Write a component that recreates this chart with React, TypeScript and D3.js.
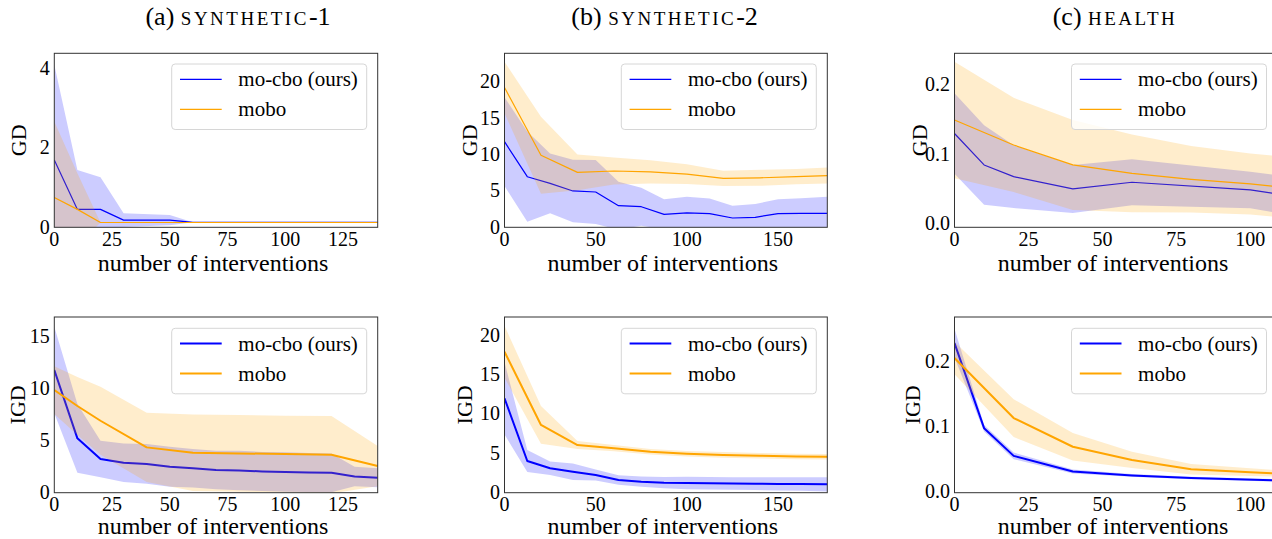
import React from 'react';
import * as d3 from 'd3';

// ---------- DATA ----------
// (a) synthetic-1, GD
const a1XMocbo = [0, 10, 20, 30, 50, 60, 140];
const a1MeanMocbo = [1.69, 0.45, 0.45, 0.18, 0.18, 0.125, 0.125];
const a1StdMocbo = [2.39, 0.99, 0.81, 0.17, 0.13, 0, 0];
const a1XMobo = [0, 10, 20, 140];
const a1MeanMobo = [0.75, 0.45, 0.12, 0.12];
const a1StdMobo = [1.91, 0.91, 0, 0];

// (b) synthetic-2, GD
const b1XMocbo = [0, 12.5, 25, 37.5, 50, 62.5, 75, 87.5, 100, 112.5, 125, 137.5, 150, 162.5, 177];
const b1MeanMocbo = [11.76, 6.95, 6.04, 4.99, 4.85, 2.97, 2.83, 1.78, 1.97, 1.88, 1.28, 1.37, 1.88, 1.9, 1.92];
const b1StdMocbo = [6.1, 6.2, 4.1, 4.3, 4.4, 3.3, 2.6, 2.07, 2.24, 2.06, 1.69, 1.83, 1.97, 2.1, 2.28];
const b1XMobo = [0, 20, 40, 60, 80, 100, 120, 140, 160, 177];
const b1MeanMobo = [19.2, 9.9, 7.55, 7.73, 7.6, 7.3, 6.73, 6.8, 6.95, 7.1];
const b1StdMobo = [3.55, 5.3, 2.45, 1.85, 1.6, 1.35, 1.05, 1.1, 1.05, 1.1];

// (c) health, GD
const c1XMocbo = [0, 10, 20, 40, 60, 100, 109];
const c1MeanMocbo = [0.13, 0.0846, 0.0677, 0.05, 0.0596, 0.0485, 0.0428];
const c1StdMocbo = [0.058, 0.0574, 0.0453, 0.0346, 0.0332, 0.0264, 0.0272];
const c1XMobo = [0, 20, 40, 60, 80, 100, 109];
const c1MeanMobo = [0.1495, 0.1134, 0.0846, 0.0724, 0.0639, 0.0572, 0.0534];
const c1StdMobo = [0.084, 0.068, 0.065, 0.056, 0.048, 0.044, 0.044];

// (a) synthetic-1, IGD
const a2XMocbo = [0, 10, 20, 30, 40, 50, 60, 70, 80, 90, 100, 110, 120, 130, 140];
const a2MeanMocbo = [11.8, 5.23, 3.24, 2.89, 2.77, 2.5, 2.35, 2.19, 2.14, 2.04, 1.98, 1.95, 1.91, 1.56, 1.43];
const a2StdMocbo = [4.16, 3.31, 1.76, 1.85, 1.91, 1.92, 1.85, 1.85, 1.9, 1.88, 1.9, 1.88, 1.87, 0.94, 0.91];
const a2XMobo = [0, 10, 20, 40, 60, 80, 100, 120, 140];
const a2MeanMobo = [9.87, 8.34, 6.92, 4.36, 3.85, 3.78, 3.72, 3.65, 2.56];
const a2StdMobo = [2.3, 2.8, 3.28, 3.34, 3.68, 3.69, 3.68, 3.72, 1.93];

// (b) synthetic-2, IGD
const b2XMocbo = [0, 12.5, 25, 37.5, 50, 62.5, 75, 87.5, 100, 112.5, 125, 137.5, 150, 162.5, 177];
const b2MeanMocbo = [11.98, 4.02, 3.1, 2.67, 2.24, 1.6, 1.4, 1.27, 1.23, 1.2, 1.17, 1.15, 1.12, 1.1, 1.06];
const b2StdMocbo = [4.6, 1.4, 0.85, 1.05, 0.7, 0.6, 0.66, 0.72, 0.8, 0.8, 0.8, 0.8, 0.85, 0.85, 0.9];
const b2XMobo = [0, 20, 40, 60, 80, 100, 120, 140, 160, 177];
const b2MeanMobo = [17.9, 8.6, 6.05, 5.65, 5.2, 4.95, 4.8, 4.7, 4.6, 4.55];
const b2StdMobo = [3.3, 2.4, 0.5, 0.4, 0.35, 0.35, 0.35, 0.35, 0.35, 0.35];

// (c) health, IGD
const c2XMocbo = [0, 10, 20, 40, 60, 80, 109];
const c2MeanMocbo = [0.228, 0.0975, 0.055, 0.031, 0.025, 0.021, 0.0175];
const c2StdMocbo = [0.022, 0.005, 0.005, 0.003, 0.002, 0.002, 0.002];
const c2XMobo = [0, 20, 40, 60, 80, 100, 109];
const c2MeanMobo = [0.205, 0.113, 0.069, 0.0488, 0.0346, 0.03, 0.028];
const c2StdMobo = [0.025, 0.029, 0.021, 0.0125, 0.008, 0.006, 0.005];

const seriesNames = ['mo-cbo (ours)', 'mobo'];
const titlePrefixes = ['(a) ', '(b) ', '(c) '];
const titleNames = ['SYNTHETIC', 'SYNTHETIC', 'HEALTH'];
const titleSuffixes = ['-1', '-2', ''];
const rowLabels = ['GD', 'IGD'];
const xLabel = 'number of interventions';

const xTicksA = [0, 25, 50, 75, 100, 125];
const xTicksB = [0, 50, 100, 150];
const xTicksC = [0, 25, 50, 75, 100];
const yTicksA1 = [0, 2, 4];
const yTicksB1 = [0, 5, 10, 15, 20];
const yTicksC1 = [0, 0.1, 0.2];
const yTicksA2 = [0, 5, 10, 15];
const yTicksB2 = [0, 5, 10, 15, 20];
const yTicksC2 = [0, 0.1, 0.2];

// ---------- LAYOUT ----------
const W = 1272;
const H = 539;
const BLUE = '#0000ff';
const ORANGE = '#ffa500';
const FONT = "'Liberation Serif', 'Times New Roman', Times, 'DejaVu Serif', serif";

const cols = [
  { l: 54.3, r: 377.7, title: 238 },
  { l: 504.5, r: 827.3, title: 664.6 },
  { l: 954.5, r: 1277.5, title: 1115 },
];
const rows = [
  { t: 53.3, b: 227.3, lw: 1.2, xlab: 271 },
  { t: 317, b: 492.7, lw: 2, xlab: 534 },
];

type Series = { x: number[]; m: number[]; s: number[] };
type Panel = {
  col: number;
  row: number;
  xDomain: [number, number];
  yDomain: [number, number];
  xTicks: number[];
  yTicks: number[];
  yFmt: (v: number) => string;
  ylabX: number;
  series: Series[];
};

const fmtInt = (v: number) => String(v);
const fmt1 = d3.format('.1f');

const panels: Panel[] = [
  { col: 0, row: 0, xDomain: [0, 140], yDomain: [0, 4.37], xTicks: xTicksA, yTicks: yTicksA1, yFmt: fmtInt, ylabX: 26,
    series: [{ x: a1XMocbo, m: a1MeanMocbo, s: a1StdMocbo }, { x: a1XMobo, m: a1MeanMobo, s: a1StdMobo }] },
  { col: 1, row: 0, xDomain: [0, 177], yDomain: [0, 23.9], xTicks: xTicksB, yTicks: yTicksB1, yFmt: fmtInt, ylabX: 476.5,
    series: [{ x: b1XMocbo, m: b1MeanMocbo, s: b1StdMocbo }, { x: b1XMobo, m: b1MeanMobo, s: b1StdMobo }] },
  { col: 2, row: 0, xDomain: [0, 109.2], yDomain: [-0.0054, 0.2457], xTicks: xTicksC, yTicks: yTicksC1, yFmt: fmt1, ylabX: 927,
    series: [{ x: c1XMocbo, m: c1MeanMocbo, s: c1StdMocbo }, { x: c1XMobo, m: c1MeanMobo, s: c1StdMobo }] },
  { col: 0, row: 1, xDomain: [0, 140], yDomain: [0, 16.9], xTicks: xTicksA, yTicks: yTicksA2, yFmt: fmtInt, ylabX: 25,
    series: [{ x: a2XMocbo, m: a2MeanMocbo, s: a2StdMocbo }, { x: a2XMobo, m: a2MeanMobo, s: a2StdMobo }] },
  { col: 1, row: 1, xDomain: [0, 177], yDomain: [0, 22.3], xTicks: xTicksB, yTicks: yTicksB2, yFmt: fmtInt, ylabX: 472,
    series: [{ x: b2XMocbo, m: b2MeanMocbo, s: b2StdMocbo }, { x: b2XMobo, m: b2MeanMobo, s: b2StdMobo }] },
  { col: 2, row: 1, xDomain: [0, 109.2], yDomain: [-0.0015, 0.268], xTicks: xTicksC, yTicks: yTicksC2, yFmt: fmt1, ylabX: 920,
    series: [{ x: c2XMocbo, m: c2MeanMocbo, s: c2StdMocbo }, { x: c2XMobo, m: c2MeanMobo, s: c2StdMobo }] },
];

const colors = [BLUE, ORANGE];

function PanelView({ p, idx }: { p: Panel; idx: number }) {
  const c = cols[p.col];
  const r = rows[p.row];
  const x = d3.scaleLinear().domain(p.xDomain).range([c.l, c.r]);
  const y = d3.scaleLinear().domain(p.yDomain).range([r.b, r.t]);
  const clipId = `clip${idx}`;
  const elems: React.ReactNode[] = [];
  p.series.forEach((s, si) => {
    const pts = s.x.map((xv, i) => ({ x: xv, m: s.m[i], sd: s.s[i] }));
    const line = d3.line<any>().x((d) => x(d.x)).y((d) => y(d.m));
    const area = d3
      .area<any>()
      .x((d) => x(d.x))
      .y0((d) => y(d.m - d.sd))
      .y1((d) => y(d.m + d.sd));
    elems.push(
      <path key={`l${si}`} d={line(pts) || ''} fill="none" stroke={colors[si]} strokeWidth={r.lw} strokeLinejoin="round" />
    );
    elems.push(<path key={`a${si}`} d={area(pts) || ''} fill={colors[si]} fillOpacity={0.2} stroke="none" />);
  });
  const bw = 195;
  const bh = 65.5;
  const bx = c.r - 11 - bw;
  const by = r.t + (p.row === 0 ? 10.7 : 11.3);
  const cx = (c.l + c.r) / 2 - 3;
  return (
    <g>
      <defs>
        <clipPath id={clipId}>
          <rect x={c.l} y={r.t} width={c.r - c.l} height={r.b - r.t} />
        </clipPath>
      </defs>
      <g clipPath={`url(#${clipId})`}>{elems}</g>
      <rect x={c.l} y={r.t} width={c.r - c.l} height={r.b - r.t} fill="none" stroke="#333" strokeWidth={1} />
      {p.yTicks.map((t) => (
        <text key={`yt${t}`} x={c.l - 4.5} y={y(t) + 6.5} textAnchor="end" fontSize={20} style={{ fontFamily: FONT }} fill="#000">
          {p.yFmt(t)}
        </text>
      ))}
      {p.xTicks.map((t) => (
        <text key={`xt${t}`} x={x(t)} y={r.b + 18.5} textAnchor="middle" fontSize={20} style={{ fontFamily: FONT }} fill="#000">
          {t}
        </text>
      ))}
      <text x={cx} y={r.xlab} textAnchor="middle" fontSize={24} style={{ fontFamily: FONT }} fill="#000">
        {xLabel}
      </text>
      <text
        transform={`translate(${p.ylabX},${(r.t + r.b) / 2}) rotate(-90)`}
        textAnchor="middle"
        fontSize={22}
        style={{ fontFamily: FONT }}
        fill="#000"
      >
        {rowLabels[p.row]}
      </text>
      <g>
        <rect x={bx} y={by} width={bw} height={bh} rx={3.5} fill="#fff" fillOpacity={0.8} stroke="#d6d6d6" strokeWidth={1} />
        {seriesNames.map((n, i) => {
          const ly = by + 15.3 + i * 30;
          return (
            <g key={n}>
              <line x1={bx + 8.3} x2={bx + 50} y1={ly} y2={ly} stroke={colors[i]} strokeWidth={r.lw} />
              <text x={bx + 66.6} y={ly + 7} fontSize={21} style={{ fontFamily: FONT }} fill="#000">
                {n}
              </text>
            </g>
          );
        })}
      </g>
    </g>
  );
}

export default function App() {
  return (
    <svg width={W} height={H} style={{ position: 'absolute', left: 0, top: 0, background: '#fff' }}>
      <rect x={0} y={0} width={W} height={H} fill="#fff" />
      {cols.map((c, i) => (
        <text key={`t${i}`} x={c.title} y={25} textAnchor="middle" fontSize={26} style={{ fontFamily: FONT }} fill="#000">
          {titlePrefixes[i]}
          <tspan fontSize={19} letterSpacing={2.5}>{titleNames[i]}</tspan>
          <tspan fontSize={26}>{titleSuffixes[i]}</tspan>
        </text>
      ))}
      {panels.map((p, i) => (
        <PanelView key={i} p={p} idx={i} />
      ))}
    </svg>
  );
}
